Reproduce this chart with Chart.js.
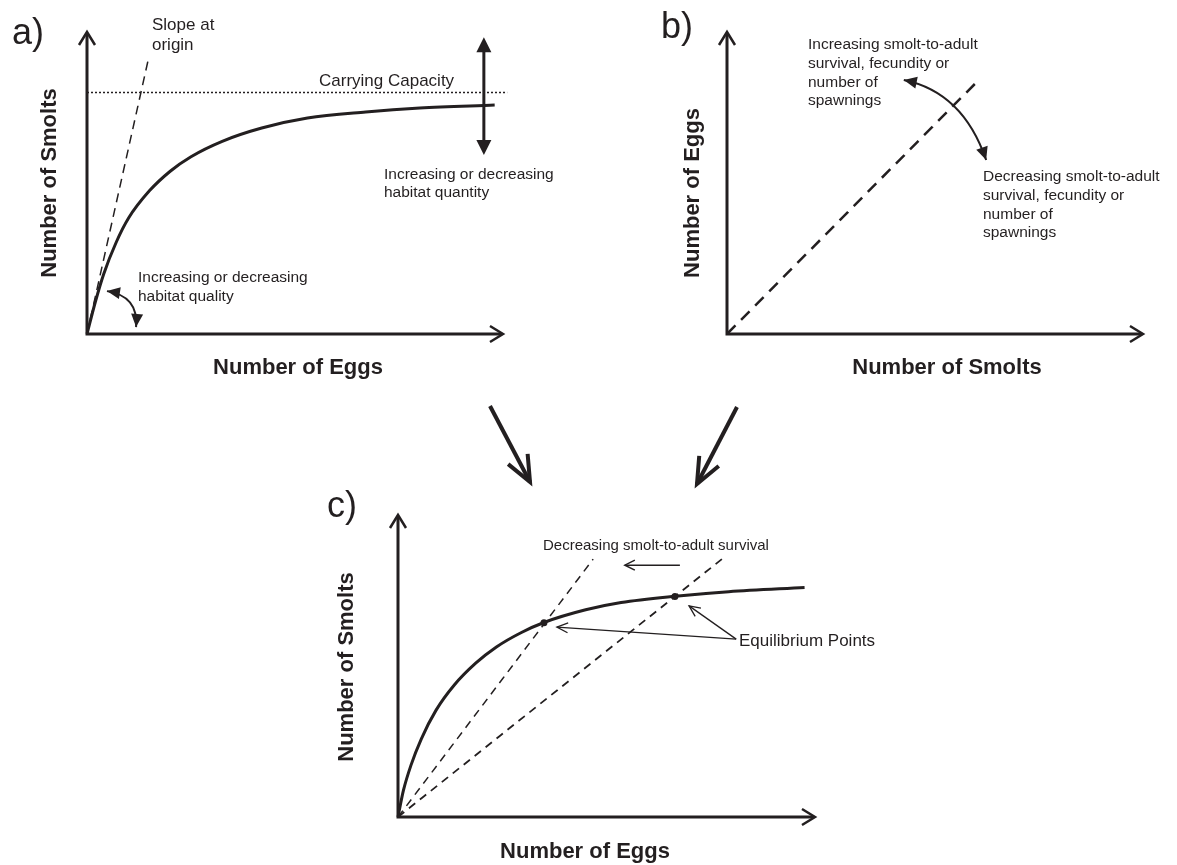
<!DOCTYPE html>
<html>
<head>
<meta charset="utf-8">
<script src="https://cdn.jsdelivr.net/npm/chart.js@4.4.1/dist/chart.umd.min.js"></script>
<style>
    html, body { margin: 0; padding: 0; background: #fff; }
    #wrap { position: relative; width: 1177px; height: 865px; }
    #wrap canvas { position: absolute; left: 0; top: 0; }
</style>
</head>
<body>
<div id="wrap">
    <canvas id="panel-a" width="1177" height="865"></canvas>
    <canvas id="panel-b" width="1177" height="865"></canvas>
    <canvas id="panel-c" width="1177" height="865"></canvas>
</div>
<script>
// Panel a: stock-recruitment curve (eggs -> smolts), axes run 0..100
const eggsA   = [0, 2, 4, 7, 10, 15, 20, 25, 32.5, 42, 53, 67, 80, 98];
const smoltsA = [0, 10.6, 19.8, 30.3, 38.4, 47.4, 53.9, 58.7, 63.8, 68.2, 71.5, 73.5, 74.8, 75.8];
const capacityX = [0, 101];
const capacityY = [80, 80];
const slopeX = [0, 14.7];
const slopeY = [0, 90.7];

// Panel b: smolts -> eggs replacement line
const smoltsB = [0, 60.3];
const eggsB   = [0, 83.8];

// Panel c: combined, two replacement lines and their equilibria
const eggsC   = [0, 1.3, 3.1, 5.6, 9.1, 13.5, 18.7, 23.6, 29.6, 35, 45, 53.5, 66.5, 79.3, 97.5];
const smoltsC = [0, 8.8, 17.1, 25.9, 35.3, 43.7, 51.0, 56.3, 61.1, 64.4, 68.6, 71.0, 73.1, 74.6, 76.0];
const steepX   = [0, 46.8];
const steepY   = [0, 85.4];
const shallowX = [0, 78.4];
const shallowY = [0, 86.2];
const equilX = [35.0, 66.4];
const equilY = [64.3, 73.0];

const INK = '#231f20';
const FONT = '"Liberation Sans", Arial, sans-serif';

const zip = (xs, ys) => xs.map((x, i) => ({ x, y: ys[i] }));

function line(xs, ys, width, dash) {
    return {
        data: zip(xs, ys),
        borderColor: INK,
        borderWidth: width,
        borderDash: dash || [],
        pointRadius: 0,
        fill: false,
        clip: false,
        cubicInterpolationMode: 'monotone'
    };
}

function pt(chart, x, y) {
    return [chart.scales.x.getPixelForValue(x), chart.scales.y.getPixelForValue(y)];
}

function head(ctx, fromX, fromY, tipX, tipY, len, half, solid) {
    const a = Math.atan2(tipY - fromY, tipX - fromX);
    const bx = tipX - len * Math.cos(a), by = tipY - len * Math.sin(a);
    ctx.beginPath();
    ctx.moveTo(bx + half * Math.sin(a), by - half * Math.cos(a));
    ctx.lineTo(tipX, tipY);
    ctx.lineTo(bx - half * Math.sin(a), by + half * Math.cos(a));
    if (solid) { ctx.closePath(); ctx.fill(); } else ctx.stroke();
}

function arrow(ctx, x0, y0, x1, y1, width, len, half) {
    ctx.lineWidth = width;
    ctx.beginPath(); ctx.moveTo(x0, y0); ctx.lineTo(x1, y1); ctx.stroke();
    head(ctx, x0, y0, x1, y1, len, half, false);
}

function curvedArrow(chart, p0, c, p2) {
    const ctx = chart.ctx;
    const [ax, ay] = pt(chart, p0[0], p0[1]);
    const [cx, cy] = pt(chart, c[0], c[1]);
    const [bx, by] = pt(chart, p2[0], p2[1]);
    ctx.lineWidth = 2;
    ctx.beginPath(); ctx.moveTo(ax, ay); ctx.quadraticCurveTo(cx, cy, bx, by); ctx.stroke();
    head(ctx, cx, cy, ax, ay, 13, 6, true);
    head(ctx, cx, cy, bx, by, 13, 6, true);
}

function text(ctx, str, x, y, size, opts) {
    opts = opts || {};
    ctx.save();
    ctx.font = `${opts.bold ? 'bold ' : ''}${size}px ${FONT}`;
    ctx.fillStyle = INK;
    ctx.textAlign = opts.align || 'left';
    ctx.textBaseline = 'middle';
    ctx.translate(x, y);
    if (opts.rotate) ctx.rotate(-Math.PI / 2);
    ctx.fillText(str, 0, 0);
    ctx.restore();
}

function drawAxes(chart) {
    const { ctx, chartArea: ca } = chart;
    ctx.lineWidth = 3;
    ctx.beginPath();
    ctx.moveTo(ca.left, ca.top + 1);
    ctx.lineTo(ca.left, ca.bottom);
    ctx.lineTo(ca.right - 1, ca.bottom);
    ctx.stroke();
    ctx.lineWidth = 2.5;
    head(ctx, ca.left, ca.bottom, ca.left, ca.top, 13, 8, false);
    head(ctx, ca.left, ca.bottom, ca.right, ca.bottom, 13, 8, false);
}

function makePanel(id, box, datasets, draw) {
    return new Chart(document.getElementById(id), {
        type: 'line',
        data: { datasets },
        options: {
            responsive: false,
            animation: false,
            events: [],
            layout: { padding: { left: box.left, top: box.top, right: 1177 - box.right, bottom: 865 - box.bottom } },
            scales: {
                x: { type: 'linear', min: 0, max: 100, display: false },
                y: { type: 'linear', min: 0, max: 100, display: false }
            },
            plugins: { legend: { display: false }, tooltip: { enabled: false } }
        },
        plugins: [{
            id: 'decor-' + id,
            afterDatasetsDraw(chart) {
                const ctx = chart.ctx;
                ctx.save();
                ctx.strokeStyle = INK;
                ctx.fillStyle = INK;
                ctx.lineJoin = 'miter';
                drawAxes(chart);
                draw(chart, ctx);
                ctx.restore();
            }
        }]
    });
}

// a)
makePanel('panel-a', { left: 87, top: 32, right: 503, bottom: 334 }, [
    line(eggsA, smoltsA, 3),
    line(capacityX, capacityY, 1.5, [2, 2]),
    line(slopeX, slopeY, 1.5, [9, 6])
], (chart, ctx) => {
    text(ctx, 'a)', 12, 34, 36);
    text(ctx, 'Number of Smolts', 50, 183, 22, { bold: true, align: 'center', rotate: true });
    text(ctx, 'Number of Eggs', 298, 368, 22, { bold: true, align: 'center' });
    text(ctx, 'Slope at', 152, 25, 17);
    text(ctx, 'origin', 152, 45, 17);
    text(ctx, 'Carrying Capacity', 319, 81, 17);
    text(ctx, 'Increasing or decreasing', 384, 175, 15.5);
    text(ctx, 'habitat quantity', 384, 193, 15.5);
    text(ctx, 'Increasing or decreasing', 138, 278, 15.5);
    text(ctx, 'habitat quality', 138, 297, 15.5);

    // habitat quantity double arrow
    const [qx, qTop] = pt(chart, 95.4, 98.3);
    const [, qBot] = pt(chart, 95.4, 59.3);
    ctx.lineWidth = 3;
    ctx.beginPath(); ctx.moveTo(qx, qTop + 8); ctx.lineTo(qx, qBot - 8); ctx.stroke();
    head(ctx, qx, qBot, qx, qTop, 15, 7.5, true);
    head(ctx, qx, qTop, qx, qBot, 15, 7.5, true);

    // habitat quality curved arrow
    curvedArrow(chart, [4.8, 14.2], [12.4, 12.6], [11.8, 2.3]);
});

// b)
makePanel('panel-b', { left: 727, top: 32, right: 1143, bottom: 334 }, [
    line(smoltsB, eggsB, 2.5, [12, 8])
], (chart, ctx) => {
    text(ctx, 'b)', 661, 28, 36);
    text(ctx, 'Number of Eggs', 693, 193, 22, { bold: true, align: 'center', rotate: true });
    text(ctx, 'Number of Smolts', 947, 368, 22, { bold: true, align: 'center' });
    ['Increasing smolt-to-adult', 'survival, fecundity or', 'number of', 'spawnings']
        .forEach((s, i) => text(ctx, s, 808, 45 + i * 18.7, 15.5));
    ['Decreasing smolt-to-adult', 'survival, fecundity or', 'number of', 'spawnings']
        .forEach((s, i) => text(ctx, s, 983, 177 + i * 18.7, 15.5));
    curvedArrow(chart, [42.5, 84.1], [56.7, 80.1], [62.3, 57.6]);
});

// c)
makePanel('panel-c', { left: 398, top: 515, right: 815, bottom: 817 }, [
    line(eggsC, smoltsC, 3),
    line(steepX, steepY, 1.5, [8, 6]),
    line(shallowX, shallowY, 1.8, [8, 6]),
    {
        type: 'scatter',
        data: zip(equilX, equilY),
        pointRadius: 3.5,
        pointBackgroundColor: INK,
        pointBorderWidth: 0,
        showLine: false,
        clip: false
    }
], (chart, ctx) => {
    text(ctx, 'c)', 327, 507, 36);
    text(ctx, 'Number of Smolts', 347, 667, 22, { bold: true, align: 'center', rotate: true });
    text(ctx, 'Number of Eggs', 585, 852, 22, { bold: true, align: 'center' });
    text(ctx, 'Decreasing smolt-to-adult survival', 543, 546, 15);
    text(ctx, 'Equilibrium Points', 739, 641, 17);

    const [sx0, sy0] = pt(chart, 67.6, 83.4);
    const [sx1, sy1] = pt(chart, 54.4, 83.4);
    arrow(ctx, sx0, sy0, sx1, sy1, 1.5, 10, 5);

    const [jx, jy] = pt(chart, 81.1, 58.9);
    const [t1x, t1y] = pt(chart, 38.1, 62.9);
    const [t2x, t2y] = pt(chart, 69.8, 69.9);
    arrow(ctx, jx, jy, t1x, t1y, 1.3, 11, 5);
    arrow(ctx, jx, jy, t2x, t2y, 1.3, 11, 5);

    // arrows leading from a) and b) into c)
    arrow(ctx, 490, 406, 530, 482, 4, 26, 11);
    arrow(ctx, 737, 407, 697, 484, 4, 26, 11);
});
</script>
</body>
</html>
